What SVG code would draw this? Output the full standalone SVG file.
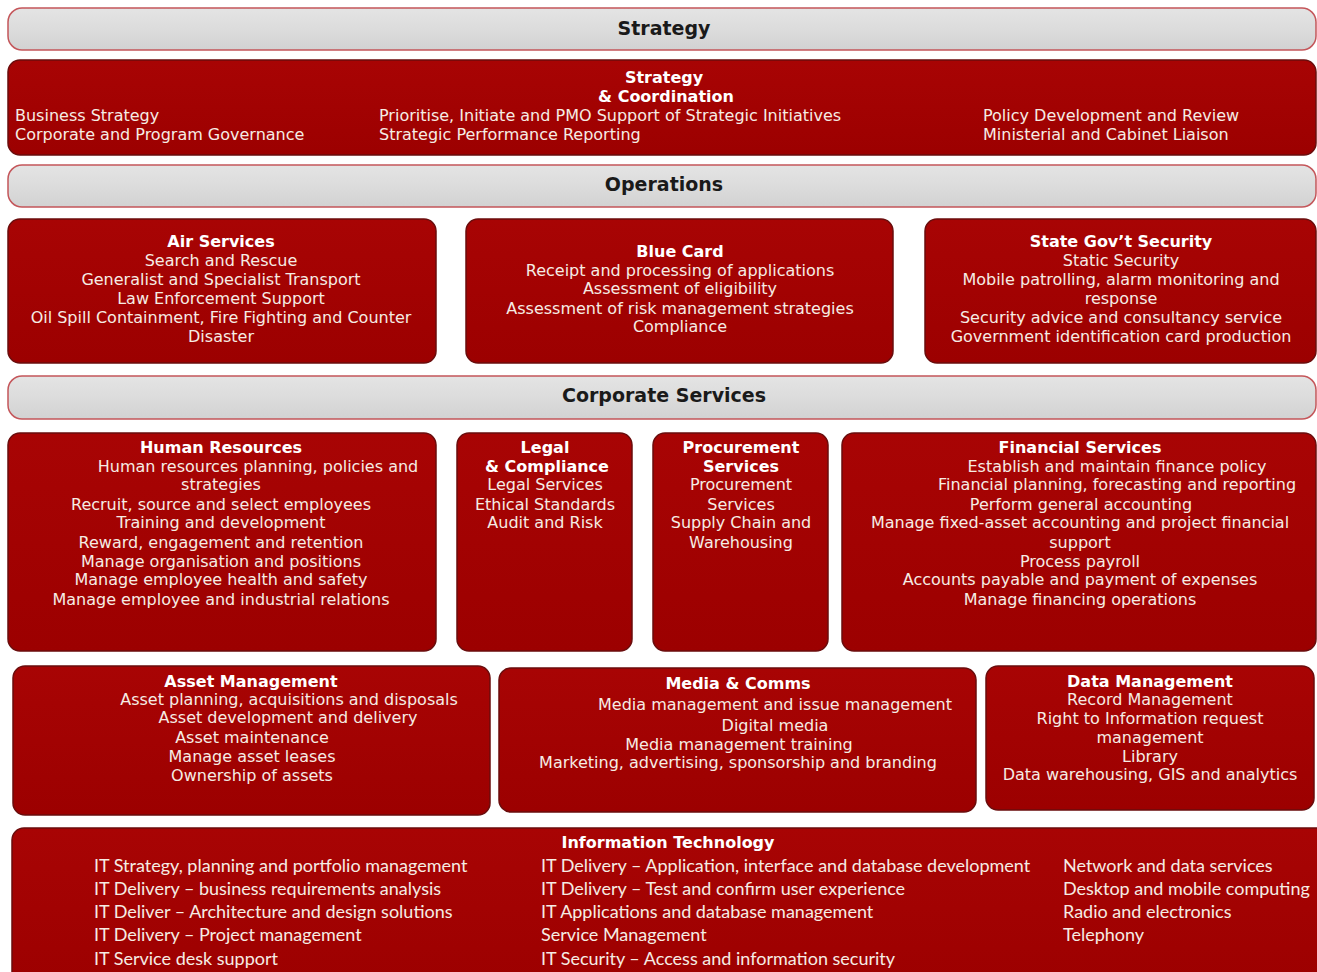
<svg xmlns="http://www.w3.org/2000/svg" width="1317" height="972" viewBox="0 0 1317 972">
  <defs>
    <linearGradient id="barFill" x1="0" y1="0" x2="0" y2="1">
      <stop offset="0" stop-color="#e4e4e4"/>
      <stop offset="0.5" stop-color="#dcdcdc"/>
      <stop offset="1" stop-color="#d2d2d2"/>
    </linearGradient>
    <linearGradient id="boxFill" x1="0" y1="0" x2="0" y2="1">
      <stop offset="0" stop-color="#a80404"/>
      <stop offset="1" stop-color="#9c0000"/>
    </linearGradient>
    <style>
      .bar { fill: url(#barFill); stroke: #c4565a; stroke-width: 1.5; }
      .box { fill: url(#boxFill); stroke: #6a0d0d; stroke-width: 1.5; }
      .hdr { font-family: "DejaVu Sans", "Liberation Sans", sans-serif; font-size: 19px; font-weight: bold; fill: #1a1a1a; text-anchor: middle; }
      .ttl { font-family: "DejaVu Sans", "Liberation Sans", sans-serif; font-size: 16px; font-weight: bold; fill: #ffffff; text-anchor: middle; }
      .txt { font-family: "DejaVu Sans", "Liberation Sans", sans-serif; font-size: 16px; fill: #f6ece4; text-anchor: middle; }
      .lft { text-anchor: start; }
      .it { font-family: Lato, "Liberation Sans", sans-serif; font-size: 18px; fill: #f6ece4; }
    </style>
  </defs>

  <rect width="1317" height="972" fill="#ffffff"/>

  <!-- Strategy band -->
  <g id="strategy-bar">
    <rect class="bar" x="8" y="8" width="1308" height="42" rx="14"/>
    <text class="hdr" x="664" y="35">Strategy</text>
  </g>

  <g id="strategy-coordination">
    <rect class="box" x="8" y="60" width="1308" height="95" rx="12"/>
    <text class="ttl" x="664" y="83">Strategy</text>
    <text class="ttl" x="666" y="102">&amp; Coordination</text>
    <text class="txt lft" x="15" y="121">Business Strategy</text>
    <text class="txt lft" x="15" y="140">Corporate and Program Governance</text>
    <text class="txt lft" x="379" y="121">Prioritise, Initiate and PMO Support of Strategic Initiatives</text>
    <text class="txt lft" x="379" y="140">Strategic Performance Reporting</text>
    <text class="txt lft" x="983" y="121">Policy Development and Review</text>
    <text class="txt lft" x="983" y="140">Ministerial and Cabinet Liaison</text>
  </g>

  <!-- Operations band -->
  <g id="operations-bar">
    <rect class="bar" x="8" y="165" width="1308" height="42" rx="14"/>
    <text class="hdr" x="664" y="191">Operations</text>
  </g>

  <g id="air-services">
    <rect class="box" x="8" y="219" width="428" height="144" rx="12"/>
    <text class="ttl" x="221" y="247">Air Services</text>
    <text class="txt" x="221" y="266">Search and Rescue</text>
    <text class="txt" x="221" y="285">Generalist and Specialist Transport</text>
    <text class="txt" x="221" y="304">Law Enforcement Support</text>
    <text class="txt" x="221" y="323">Oil Spill Containment, Fire Fighting and Counter</text>
    <text class="txt" x="221" y="342">Disaster</text>
  </g>

  <g id="blue-card">
    <rect class="box" x="466" y="219" width="427" height="144" rx="12"/>
    <text class="ttl" x="680" y="257">Blue Card</text>
    <text class="txt" x="680" y="276">Receipt and processing of applications</text>
    <text class="txt" x="680" y="294">Assessment of eligibility</text>
    <text class="txt" x="680" y="314">Assessment of risk management strategies</text>
    <text class="txt" x="680" y="332">Compliance</text>
  </g>

  <g id="state-govt-security">
    <rect class="box" x="925" y="219" width="391" height="144" rx="12"/>
    <text class="ttl" x="1121" y="247">State Gov’t Security</text>
    <text class="txt" x="1121" y="266">Static Security</text>
    <text class="txt" x="1121" y="285">Mobile patrolling, alarm monitoring and</text>
    <text class="txt" x="1121" y="304">response</text>
    <text class="txt" x="1121" y="323">Security advice and consultancy service</text>
    <text class="txt" x="1121" y="342">Government identification card production</text>
  </g>

  <!-- Corporate Services band -->
  <g id="corporate-services-bar">
    <rect class="bar" x="8" y="376" width="1308" height="43" rx="14"/>
    <text class="hdr" x="664" y="402">Corporate Services</text>
  </g>

  <g id="human-resources">
    <rect class="box" x="8" y="433" width="428" height="218" rx="12"/>
    <text class="ttl" x="221" y="453">Human Resources</text>
    <text class="txt" x="258" y="472">Human resources planning, policies and</text>
    <text class="txt" x="221" y="490">strategies</text>
    <text class="txt" x="221" y="510">Recruit, source and select employees</text>
    <text class="txt" x="221" y="528">Training and development</text>
    <text class="txt" x="221" y="548">Reward, engagement and retention</text>
    <text class="txt" x="221" y="567">Manage organisation and positions</text>
    <text class="txt" x="221" y="585">Manage employee health and safety</text>
    <text class="txt" x="221" y="605">Manage employee and industrial relations</text>
  </g>

  <g id="legal-compliance">
    <rect class="box" x="457" y="433" width="175" height="218" rx="12"/>
    <text class="ttl" x="545" y="453">Legal</text>
    <text class="ttl" x="547" y="472">&amp; Compliance</text>
    <text class="txt" x="545" y="490">Legal Services</text>
    <text class="txt" x="545" y="510">Ethical Standards</text>
    <text class="txt" x="545" y="528">Audit and Risk</text>
  </g>

  <g id="procurement-services">
    <rect class="box" x="653" y="433" width="175" height="218" rx="12"/>
    <text class="ttl" x="741" y="453">Procurement</text>
    <text class="ttl" x="741" y="472">Services</text>
    <text class="txt" x="741" y="490">Procurement</text>
    <text class="txt" x="741" y="510">Services</text>
    <text class="txt" x="741" y="528">Supply Chain and</text>
    <text class="txt" x="741" y="548">Warehousing</text>
  </g>

  <g id="financial-services">
    <rect class="box" x="842" y="433" width="474" height="218" rx="12"/>
    <text class="ttl" x="1080" y="453">Financial Services</text>
    <text class="txt" x="1117" y="472">Establish and maintain finance policy</text>
    <text class="txt" x="1117" y="490">Financial planning, forecasting and reporting</text>
    <text class="txt" x="1081" y="510">Perform general accounting</text>
    <text class="txt" x="1080" y="528">Manage fixed-asset accounting and project financial</text>
    <text class="txt" x="1080" y="548">support</text>
    <text class="txt" x="1080" y="567">Process payroll</text>
    <text class="txt" x="1080" y="585">Accounts payable and payment of expenses</text>
    <text class="txt" x="1080" y="605">Manage financing operations</text>
  </g>

  <g id="asset-management">
    <rect class="box" x="13" y="666" width="477" height="149" rx="12"/>
    <text class="ttl" x="251" y="687">Asset Management</text>
    <text class="txt" x="289" y="705">Asset planning, acquisitions and disposals</text>
    <text class="txt" x="288" y="723">Asset development and delivery</text>
    <text class="txt" x="252" y="743">Asset maintenance</text>
    <text class="txt" x="252" y="762">Manage asset leases</text>
    <text class="txt" x="252" y="781">Ownership of assets</text>
  </g>

  <g id="media-comms">
    <rect class="box" x="499" y="668" width="477" height="144" rx="12"/>
    <text class="ttl" x="738" y="689">Media &amp; Comms</text>
    <text class="txt" x="775" y="710">Media management and issue management</text>
    <text class="txt" x="775" y="731">Digital media</text>
    <text class="txt" x="739" y="750">Media management training</text>
    <text class="txt" x="738" y="768">Marketing, advertising, sponsorship and branding</text>
  </g>

  <g id="data-management">
    <rect class="box" x="986" y="666" width="328" height="144" rx="12"/>
    <text class="ttl" x="1150" y="687">Data Management</text>
    <text class="txt" x="1150" y="705">Record Management</text>
    <text class="txt" x="1150" y="724">Right to Information request</text>
    <text class="txt" x="1150" y="743">management</text>
    <text class="txt" x="1150" y="762">Library</text>
    <text class="txt" x="1150" y="780">Data warehousing, GIS and analytics</text>
  </g>

  <g id="information-technology">
    <rect class="box" x="12" y="828" width="1320" height="160" rx="12"/>
    <text class="ttl" x="668" y="848">Information Technology</text>
    <text class="it" x="94" y="872">IT Strategy, planning and portfolio management</text>
    <text class="it" x="94" y="895">IT Delivery – business requirements analysis</text>
    <text class="it" x="94" y="918">IT Deliver – Architecture and design solutions</text>
    <text class="it" x="94" y="941">IT Delivery – Project management</text>
    <text class="it" x="94" y="965">IT Service desk support</text>
    <text class="it" x="541" y="872">IT Delivery – Application, interface and database development</text>
    <text class="it" x="541" y="895">IT Delivery – Test and confirm user experience</text>
    <text class="it" x="541" y="918">IT Applications and database management</text>
    <text class="it" x="541" y="941">Service Management</text>
    <text class="it" x="541" y="965">IT Security – Access and information security</text>
    <text class="it" x="1063" y="872">Network and data services</text>
    <text class="it" x="1063" y="895">Desktop and mobile computing</text>
    <text class="it" x="1063" y="918">Radio and electronics</text>
    <text class="it" x="1063" y="941">Telephony</text>
  </g>
</svg>
